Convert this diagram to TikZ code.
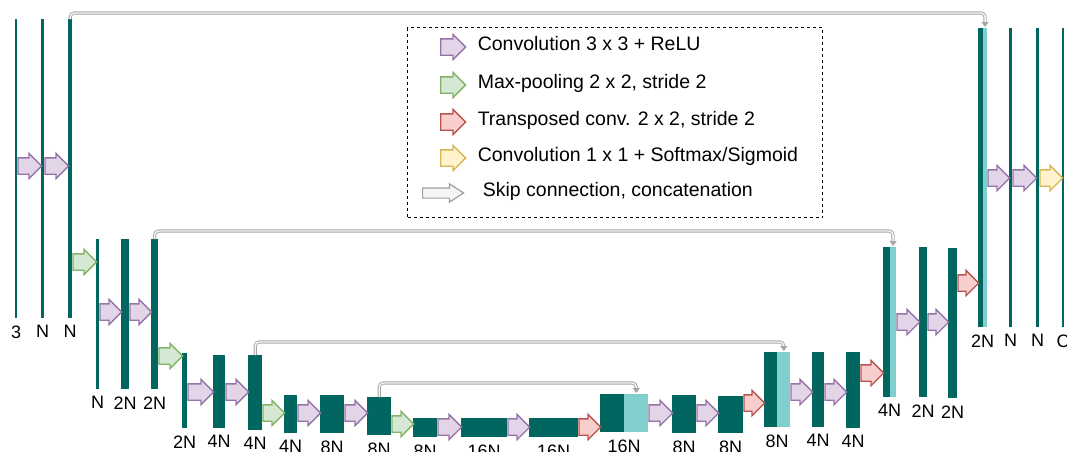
\documentclass[tikz,border=0pt]{standalone}
\usepackage{fontspec}
\setmainfont{Liberation Sans}
\usetikzlibrary{
    arrows.meta,
    positioning,
    calc,
    shapes.arrows
}
\definecolor{unetdark}{HTML}{00665F}
\definecolor{unetlight}{HTML}{80CFCD}
\definecolor{convfill}{HTML}{E1D5E7}
\definecolor{convline}{HTML}{9673A6}
\definecolor{poolfill}{HTML}{D5E8D4}
\definecolor{poolline}{HTML}{82B366}
\definecolor{upfill}{HTML}{F8CECC}
\definecolor{upline}{HTML}{B85450}
\definecolor{finalfill}{HTML}{FFF2CC}
\definecolor{finalline}{HTML}{D6B656}
\tikzset{
    % --- Feature map (one bar per tensor) ---
    fmap/.style = {
        rectangle, fill=unetdark, inner sep=0pt,
        anchor=north west
    },
    % --- Feature map with copied half (after concatenation) ---
    concat fmap/.style = {
        fmap,
        path picture={\fill[unetlight] (path picture bounding box.south)
            rectangle (path picture bounding box.north east);}
    },
    % --- Channel count under a feature map ---
    size/.style = {
        font=\fontsize{18}{21}\selectfont, inner sep=0pt,
        label distance=7pt
    },
    % --- Block arrow between feature maps ---
    block arrow/.style = {
        single arrow, draw, line width=1.3pt,
        inner xsep=0pt, inner ysep=7.5pt,
        single arrow head extend=4.5pt,
        minimum width=0pt, anchor=tail
    },
    conv/.style = {block arrow, fill=convfill, draw=convline},
    pool/.style = {block arrow, fill=poolfill, draw=poolline},
    upconv/.style = {block arrow, fill=upfill, draw=upline},
    final/.style = {block arrow, fill=finalfill, draw=finalline},
    % --- Skip connection (copy and concatenate) ---
    skip/.style = {
        draw=gray!70, double=gray!6, line width=0.9pt,
        double distance=1.4pt, rounded corners=4pt,
        -{Triangle[length=5pt, width=7pt]}, shorten >=1pt
    },
    % --- Legend frame and text ---
    legend box/.style = {
        rectangle, draw, line width=1.2pt,
        dash pattern=on 3pt off 3pt, inner sep=0pt,
        anchor=north west
    },
    legend text/.style = {
        font=\fontsize{19.5}{23}\selectfont, inner sep=0pt,
        text height=0.72em, text depth=0pt
    }
}
% block arrow from one feature map to the next, at height #4
\newcommand{\flowarrow}[4]{%
    \path let \p1=(#2.east |- 0,#4), \p2=(#3.west |- 0,#4) in
        node[#1, minimum height=\x2-\x1] at (\p1) {};}

\begin{document}
\begin{tikzpicture}[x=1pt, y=-1pt]

\useasboundingbox (0,0) rectangle (1067,451);
\clip (0,0) rectangle (1067,451);

% ---------------------------------------------------------
% Contracting path
% ---------------------------------------------------------
\node[fmap, minimum width=2pt, minimum height=299pt, label={[size]below:3}] (e1a) at (15,19) {};
\node[fmap, minimum width=3pt, minimum height=299pt, label={[size]below:N}] (e1b) at (41,19) {};
\node[fmap, minimum width=4pt, minimum height=299pt, label={[size]below:N}] (e1c) at (68,19) {};

\node[fmap, minimum width=3pt, minimum height=150pt, label={[size]below:N}] (e2a) at (96,239) {};
\node[fmap, minimum width=8pt, minimum height=150pt, label={[size]below:2N}] (e2b) at (121,239) {};
\node[fmap, minimum width=7pt, minimum height=150pt, label={[size]below:2N}] (e2c) at (151,239) {};

\node[fmap, minimum width=5pt, minimum height=75pt, label={[size]below:2N}] (e3a) at (182,353) {};
\node[fmap, minimum width=12pt, minimum height=73pt, label={[size]below:4N}] (e3b) at (213,355) {};
\node[fmap, minimum width=14pt, minimum height=75pt, label={[size]below:4N}] (e3c) at (248,355) {};

\node[fmap, minimum width=13pt, minimum height=38pt, label={[size]below:4N}] (e4a) at (284,395) {};
\node[fmap, minimum width=24pt, minimum height=38pt, label={[size]below:8N}] (e4b) at (320,395) {};
\node[fmap, minimum width=24pt, minimum height=38pt, label={[size]below:8N}] (e4c) at (367,397) {};

% bottleneck
\node[fmap, minimum width=24pt, minimum height=19pt, label={[size]below:8N}] (e5a) at (413,418) {};
\node[fmap, minimum width=46pt, minimum height=19pt, label={[size]below:16N}] (e5b) at (461,418) {};
\node[fmap, minimum width=49pt, minimum height=19pt, label={[size]below:16N}] (e5c) at (529,418) {};

% ---------------------------------------------------------
% Expanding path
% ---------------------------------------------------------
\node[concat fmap, minimum width=48pt, minimum height=38pt, label={[size]below:16N}] (d4a) at (600,394) {};
\node[fmap, minimum width=24pt, minimum height=38pt, label={[size]below:8N}] (d4b) at (672,395) {};
\node[fmap, minimum width=25pt, minimum height=37pt, label={[size]below:8N}] (d4c) at (718,396) {};

\node[concat fmap, minimum width=26pt, minimum height=75pt, label={[size]below:8N}] (d3a) at (764,352) {};
\node[fmap, minimum width=12pt, minimum height=75pt, label={[size]below:4N}] (d3b) at (812,352) {};
\node[fmap, minimum width=14pt, minimum height=76pt, label={[size]below:4N}] (d3c) at (846,352) {};

\node[concat fmap, minimum width=13pt, minimum height=150pt, label={[size]below:4N}] (d2a) at (883,247) {};
\node[fmap, minimum width=8pt, minimum height=150pt, label={[size]below:2N}] (d2b) at (919,247) {};
\node[fmap, minimum width=9pt, minimum height=150pt, label={[size]below:2N}] (d2c) at (948,248) {};

\node[concat fmap, minimum width=9pt, minimum height=299pt, label={[size]below:2N}] (d1a) at (978,28) {};
\node[fmap, minimum width=3pt, minimum height=299pt, label={[size]below:N}] (d1b) at (1009,28) {};
\node[fmap, minimum width=3pt, minimum height=299pt, label={[size]below:N}] (d1c) at (1036,28) {};
\node[fmap, minimum width=2pt, minimum height=299pt, label={[size]below:C}] (d1d) at (1062,28) {};

% ---------------------------------------------------------
% Operations
% ---------------------------------------------------------
\flowarrow{conv}{e1a}{e1b}{166}
\flowarrow{conv}{e1b}{e1c}{166}
\flowarrow{pool}{e1c}{e2a}{262}
\flowarrow{conv}{e2a}{e2b}{312}
\flowarrow{conv}{e2b}{e2c}{312}
\flowarrow{pool}{e2c}{e3a}{356}
\flowarrow{conv}{e3a}{e3b}{392}
\flowarrow{conv}{e3b}{e3c}{392}
\flowarrow{pool}{e3c}{e4a}{413}
\flowarrow{conv}{e4a}{e4b}{413}
\flowarrow{conv}{e4b}{e4c}{413}
\flowarrow{pool}{e4c}{e5a}{424}
\flowarrow{conv}{e5a}{e5b}{427}
\flowarrow{conv}{e5b}{e5c}{427}

\flowarrow{upconv}{e5c}{d4a}{427}
\flowarrow{conv}{d4a}{d4b}{413}
\flowarrow{conv}{d4b}{d4c}{413}
\flowarrow{upconv}{d4c}{d3a}{403}
\flowarrow{conv}{d3a}{d3b}{392}
\flowarrow{conv}{d3b}{d3c}{392}
\flowarrow{upconv}{d3c}{d2a}{373}
\flowarrow{conv}{d2a}{d2b}{322}
\flowarrow{conv}{d2b}{d2c}{322}
\flowarrow{upconv}{d2c}{d1a}{283}
\flowarrow{conv}{d1a}{d1b}{178}
\flowarrow{conv}{d1b}{d1c}{178}
\flowarrow{final}{d1c}{d1d}{178}

% ---------------------------------------------------------
% Skip connections
% ---------------------------------------------------------
\draw[skip] (e1c.north) -- (e1c.north |- 0,13) -| ($(d1a.north)!0.5!(d1a.north east)$);
\draw[skip] (e2c.north) -- (e2c.north |- 0,231) -| ($(d2a.north)!0.5!(d2a.north east)$);
\draw[skip] (e3c.north) -- (e3c.north |- 0,342) -| ($(d3a.north)!0.5!(d3a.north east)$);
\draw[skip] (e4c.north) -- (e4c.north |- 0,383) -| ($(d4a.north)!0.5!(d4a.north east)$);

% ---------------------------------------------------------
% Legend
% ---------------------------------------------------------
\node[legend box, minimum width=415pt, minimum height=190pt] (legend) at (407,27) {};

\node[conv, minimum height=25pt] (lgconv) at (440,47) {};
\node[legend text, right=11pt of lgconv] (lgconvtxt) {Convolution 3 x 3 + ReLU};
\node[pool, minimum height=25pt] (lgpool) at (440,85) {};
\node[legend text, right=11pt of lgpool] (lgpooltxt) {Max-pooling 2 x 2, stride 2};
\node[upconv, minimum height=25pt] (lgup) at (440,122) {};
\node[legend text, right=11pt of lgup] (lguptxt) {Transposed conv. 2 x 2, stride 2};
\node[final, minimum height=25pt] (lgfinal) at (440,158) {};
\node[legend text, right=11pt of lgfinal] (lgfinaltxt) {Convolution 1 x 1 + Softmax/Sigmoid};
\node[block arrow, fill=gray!8, draw=gray!75, line width=1.2pt, inner ysep=4.5pt,
      single arrow head extend=4pt, single arrow tip angle=66,
      minimum height=41pt] (lgskip) at (422,193) {};
\node[legend text, right=18pt of lgskip] (lgskiptxt) {Skip connection, concatenation};

\end{tikzpicture}
\end{document}
